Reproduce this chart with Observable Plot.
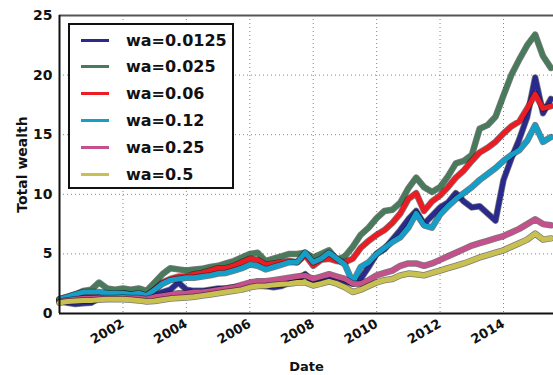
<!DOCTYPE html>
<html>
<head>
<meta charset="utf-8">
<script src="https://cdn.jsdelivr.net/npm/d3@7"></script>
<script src="https://cdn.jsdelivr.net/npm/@observablehq/plot@0.6"></script>
<style>
  html, body { margin: 0; padding: 0; background: #fff; }
  #wrap { position: relative; width: 553px; height: 375px; overflow: hidden; font-family: "DejaVu Sans", sans-serif; }
  #legend { position: absolute; left: 68px; top: 23px; width: 162px; height: 162px; border: 2px solid #111; background: #fff; box-sizing: content-box; }
  .row { position: absolute; left: 0; height: 20px; display: flex; align-items: center; }
  .sw { position: absolute; left: 11px; width: 28px; height: 3px; }
  .lab { position: absolute; left: 56px; font-weight: bold; font-size: 16px; white-space: nowrap; color: #111; }
</style>
</head>
<body>
<div id="wrap"><div id="chart"></div><div id="legend"></div></div>
<script>
const dates = [
  "2000-01-01","2000-04-01","2000-07-01","2000-10-01",
  "2001-01-01","2001-04-01","2001-07-01","2001-10-01",
  "2002-01-01","2002-04-01","2002-07-01","2002-10-01",
  "2003-01-01","2003-04-01","2003-07-01","2003-10-01",
  "2004-01-01","2004-04-01","2004-07-01","2004-10-01",
  "2005-01-01","2005-04-01","2005-07-01","2005-10-01",
  "2006-01-01","2006-04-01","2006-07-01","2006-10-01",
  "2007-01-01","2007-04-01","2007-07-01","2007-10-01",
  "2008-01-01","2008-04-01","2008-07-01","2008-10-01",
  "2009-01-01","2009-04-01","2009-07-01","2009-10-01",
  "2010-01-01","2010-04-01","2010-07-01","2010-10-01",
  "2011-01-01","2011-04-01","2011-07-01","2011-10-01",
  "2012-01-01","2012-04-01","2012-07-01","2012-10-01",
  "2013-01-01","2013-04-01","2013-07-01","2013-10-01",
  "2014-01-01","2014-04-01","2014-07-01","2014-10-01",
  "2015-01-01","2015-04-01","2015-07-01"
];

const seriesNames = ["wa=0.0125","wa=0.025","wa=0.06","wa=0.12","wa=0.25","wa=0.5"];
const seriesColors = ["#2a2a8e","#4a7a5c","#ec1c24","#149ec8","#c4508c","#c8c050"];

const wa0125 = [1.1,0.9,0.8,0.85, 0.9,1.3,1.3,1.35, 1.4,1.35,1.4,1.3, 1.5,1.8,2.0,2.6, 2.0,1.9,1.9,2.0,
  2.1,2.1,2.2,2.3, 2.5,2.4,2.3,2.2, 2.3,2.6,2.8,3.3, 2.6,2.7,2.8,3.0, 2.7,2.5,2.9,3.9,
  5.0,5.4,6.2,7.0, 7.9,8.6,7.5,8.2, 8.9,9.3,10.1,9.4, 8.9,9.0,8.4,7.8, 11.2,13.0,14.6,16.5, 19.8,16.8,18.0];
const wa025 = [1.2,1.4,1.6,1.9, 2.0,2.6,2.1,2.0, 2.1,2.0,2.1,1.9, 2.6,3.3,3.8,3.7, 3.6,3.7,3.75,3.9,
  4.0,4.2,4.4,4.7, 5.0,5.1,4.4,4.6, 4.8,5.0,5.0,5.1, 4.7,5.0,5.3,4.5, 4.8,5.6,6.6,7.2,
  8.0,8.6,8.7,9.3, 10.5,11.4,10.6,10.2, 10.6,11.5,12.6,12.8, 13.3,15.5,15.8,16.5, 18.3,20.0,21.3,22.5, 23.4,21.6,20.6];
const wa06 = [1.1,1.3,1.5,1.6, 1.7,1.7,1.6,1.6, 1.7,1.6,1.6,1.5, 2.0,2.6,2.9,3.1, 3.1,3.3,3.4,3.6,
  3.8,3.8,4.0,4.3, 4.6,4.5,4.1,4.2, 4.3,4.4,4.3,4.9, 4.0,4.5,4.6,4.4, 4.3,4.6,5.5,6.1,
  6.6,7.0,7.6,8.4, 9.6,10.1,8.6,9.4, 9.9,10.6,11.4,12.0, 12.8,13.5,13.9,14.4, 15.1,15.7,16.1,17.2, 18.4,17.2,17.4];
const wa12 = [1.2,1.4,1.6,1.8, 1.8,1.8,1.7,1.7, 1.7,1.6,1.7,1.5, 2.0,2.5,2.8,2.9, 3.0,3.0,3.1,3.2,
  3.35,3.4,3.6,3.8, 4.1,4.0,3.7,3.9, 4.1,4.3,4.3,5.1, 4.3,4.6,5.1,4.6, 4.1,2.6,3.9,4.3,
  5.0,5.5,6.0,6.4, 7.2,8.4,7.4,7.2, 8.3,9.0,9.6,10.1, 10.6,11.2,11.7,12.2, 12.8,13.3,13.7,14.5, 15.8,14.4,14.8];
const wa25 = [1.0,1.1,1.2,1.25, 1.25,1.3,1.3,1.3, 1.35,1.3,1.3,1.2, 1.4,1.5,1.6,1.7, 1.7,1.8,1.8,1.9,
  2.0,2.1,2.2,2.4, 2.6,2.7,2.7,2.8, 2.9,3.0,3.1,3.2, 2.9,3.1,3.3,3.1, 2.9,2.5,2.5,2.8,
  3.2,3.4,3.6,4.0, 4.2,4.2,4.0,4.2, 4.5,4.8,5.1,5.4, 5.7,5.9,6.1,6.3, 6.5,6.8,7.1,7.5, 7.9,7.5,7.4];
const wa5 = [0.9,1.0,1.05,1.1, 1.1,1.15,1.2,1.2, 1.2,1.15,1.1,1.0, 1.05,1.15,1.25,1.3, 1.35,1.4,1.5,1.6,
  1.7,1.8,1.9,2.0, 2.2,2.3,2.3,2.4, 2.45,2.5,2.6,2.6, 2.35,2.5,2.7,2.5, 2.2,1.8,2.0,2.3,
  2.6,2.8,2.9,3.2, 3.35,3.3,3.2,3.4, 3.6,3.8,4.0,4.2, 4.45,4.7,4.9,5.1, 5.3,5.6,5.9,6.2, 6.7,6.2,6.3];

const yTicks = [0,5,10,15,20,25];
const yGrid = [5,10,15,20];
const xTickYears = ["2002","2004","2006","2008","2010","2012","2014"];

const allValues = [wa0125, wa025, wa06, wa12, wa25, wa5];
const parse = d3.utcParse("%Y-%m-%d");
const xDomain = [parse("2000-01-01"), parse("2015-07-31")];
const xTicks = xTickYears.map(y => d3.utcParse("%Y")(y));

const marks = [
  Plot.ruleY(yGrid, {stroke: "#888", strokeWidth: 1, strokeDasharray: "1,3"}),
  Plot.ruleX(xTicks, {stroke: "#888", strokeWidth: 1, strokeDasharray: "1,3"}),
  Plot.ruleY([25], {stroke: "#555", strokeWidth: 2}),
];
allValues.forEach((vals, i) => {
  const data = dates.map((d, j) => ({date: parse(d), value: vals[j]}));
  marks.push(Plot.line(data, {x: "date", y: "value", stroke: "#111", strokeWidth: 6.5, strokeOpacity: 0.55, curve: "linear"}));
  marks.push(Plot.line(data, {x: "date", y: "value", stroke: seriesColors[i], strokeWidth: 5, curve: "linear"}));
});
marks.push(
  Plot.ruleY([0], {stroke: "#111", strokeWidth: 2}),
  Plot.ruleX([xDomain[0]], {stroke: "#111", strokeWidth: 2}),
  Plot.axisY(yTicks, {tickSize: 0, tickPadding: 7, fontSize: 14, fontWeight: "bold", label: "Total wealth", labelArrow: "none", labelAnchor: "center", labelOffset: 42}),
  Plot.axisX(xTicks, {tickSize: 0, tickPadding: 9, tickRotate: -30, tickFormat: d3.utcFormat("%Y"), fontSize: 13, fontWeight: "bold", label: "Date", labelArrow: "none", labelAnchor: "center", labelOffset: 57})
);

const chart = Plot.plot({
  width: 553,
  height: 375,
  marginLeft: 59,
  marginRight: 0,
  marginTop: 15,
  marginBottom: 62,
  style: {fontFamily: "DejaVu Sans, sans-serif", color: "#111", background: "#fff", overflow: "visible"},
  x: {type: "utc", domain: xDomain},
  y: {domain: [0, 25]},
  marks
});
document.getElementById("chart").appendChild(chart);

const legend = document.getElementById("legend");
seriesNames.forEach((name, i) => {
  const row = document.createElement("div");
  row.className = "row";
  row.style.top = (5 + i * 26.8) + "px";
  row.style.width = "160px";
  const sw = document.createElement("div");
  sw.className = "sw";
  sw.style.background = seriesColors[i];
  const lab = document.createElement("div");
  lab.className = "lab";
  lab.textContent = name;
  row.appendChild(sw);
  row.appendChild(lab);
  legend.appendChild(row);
});
</script>
</body>
</html>
